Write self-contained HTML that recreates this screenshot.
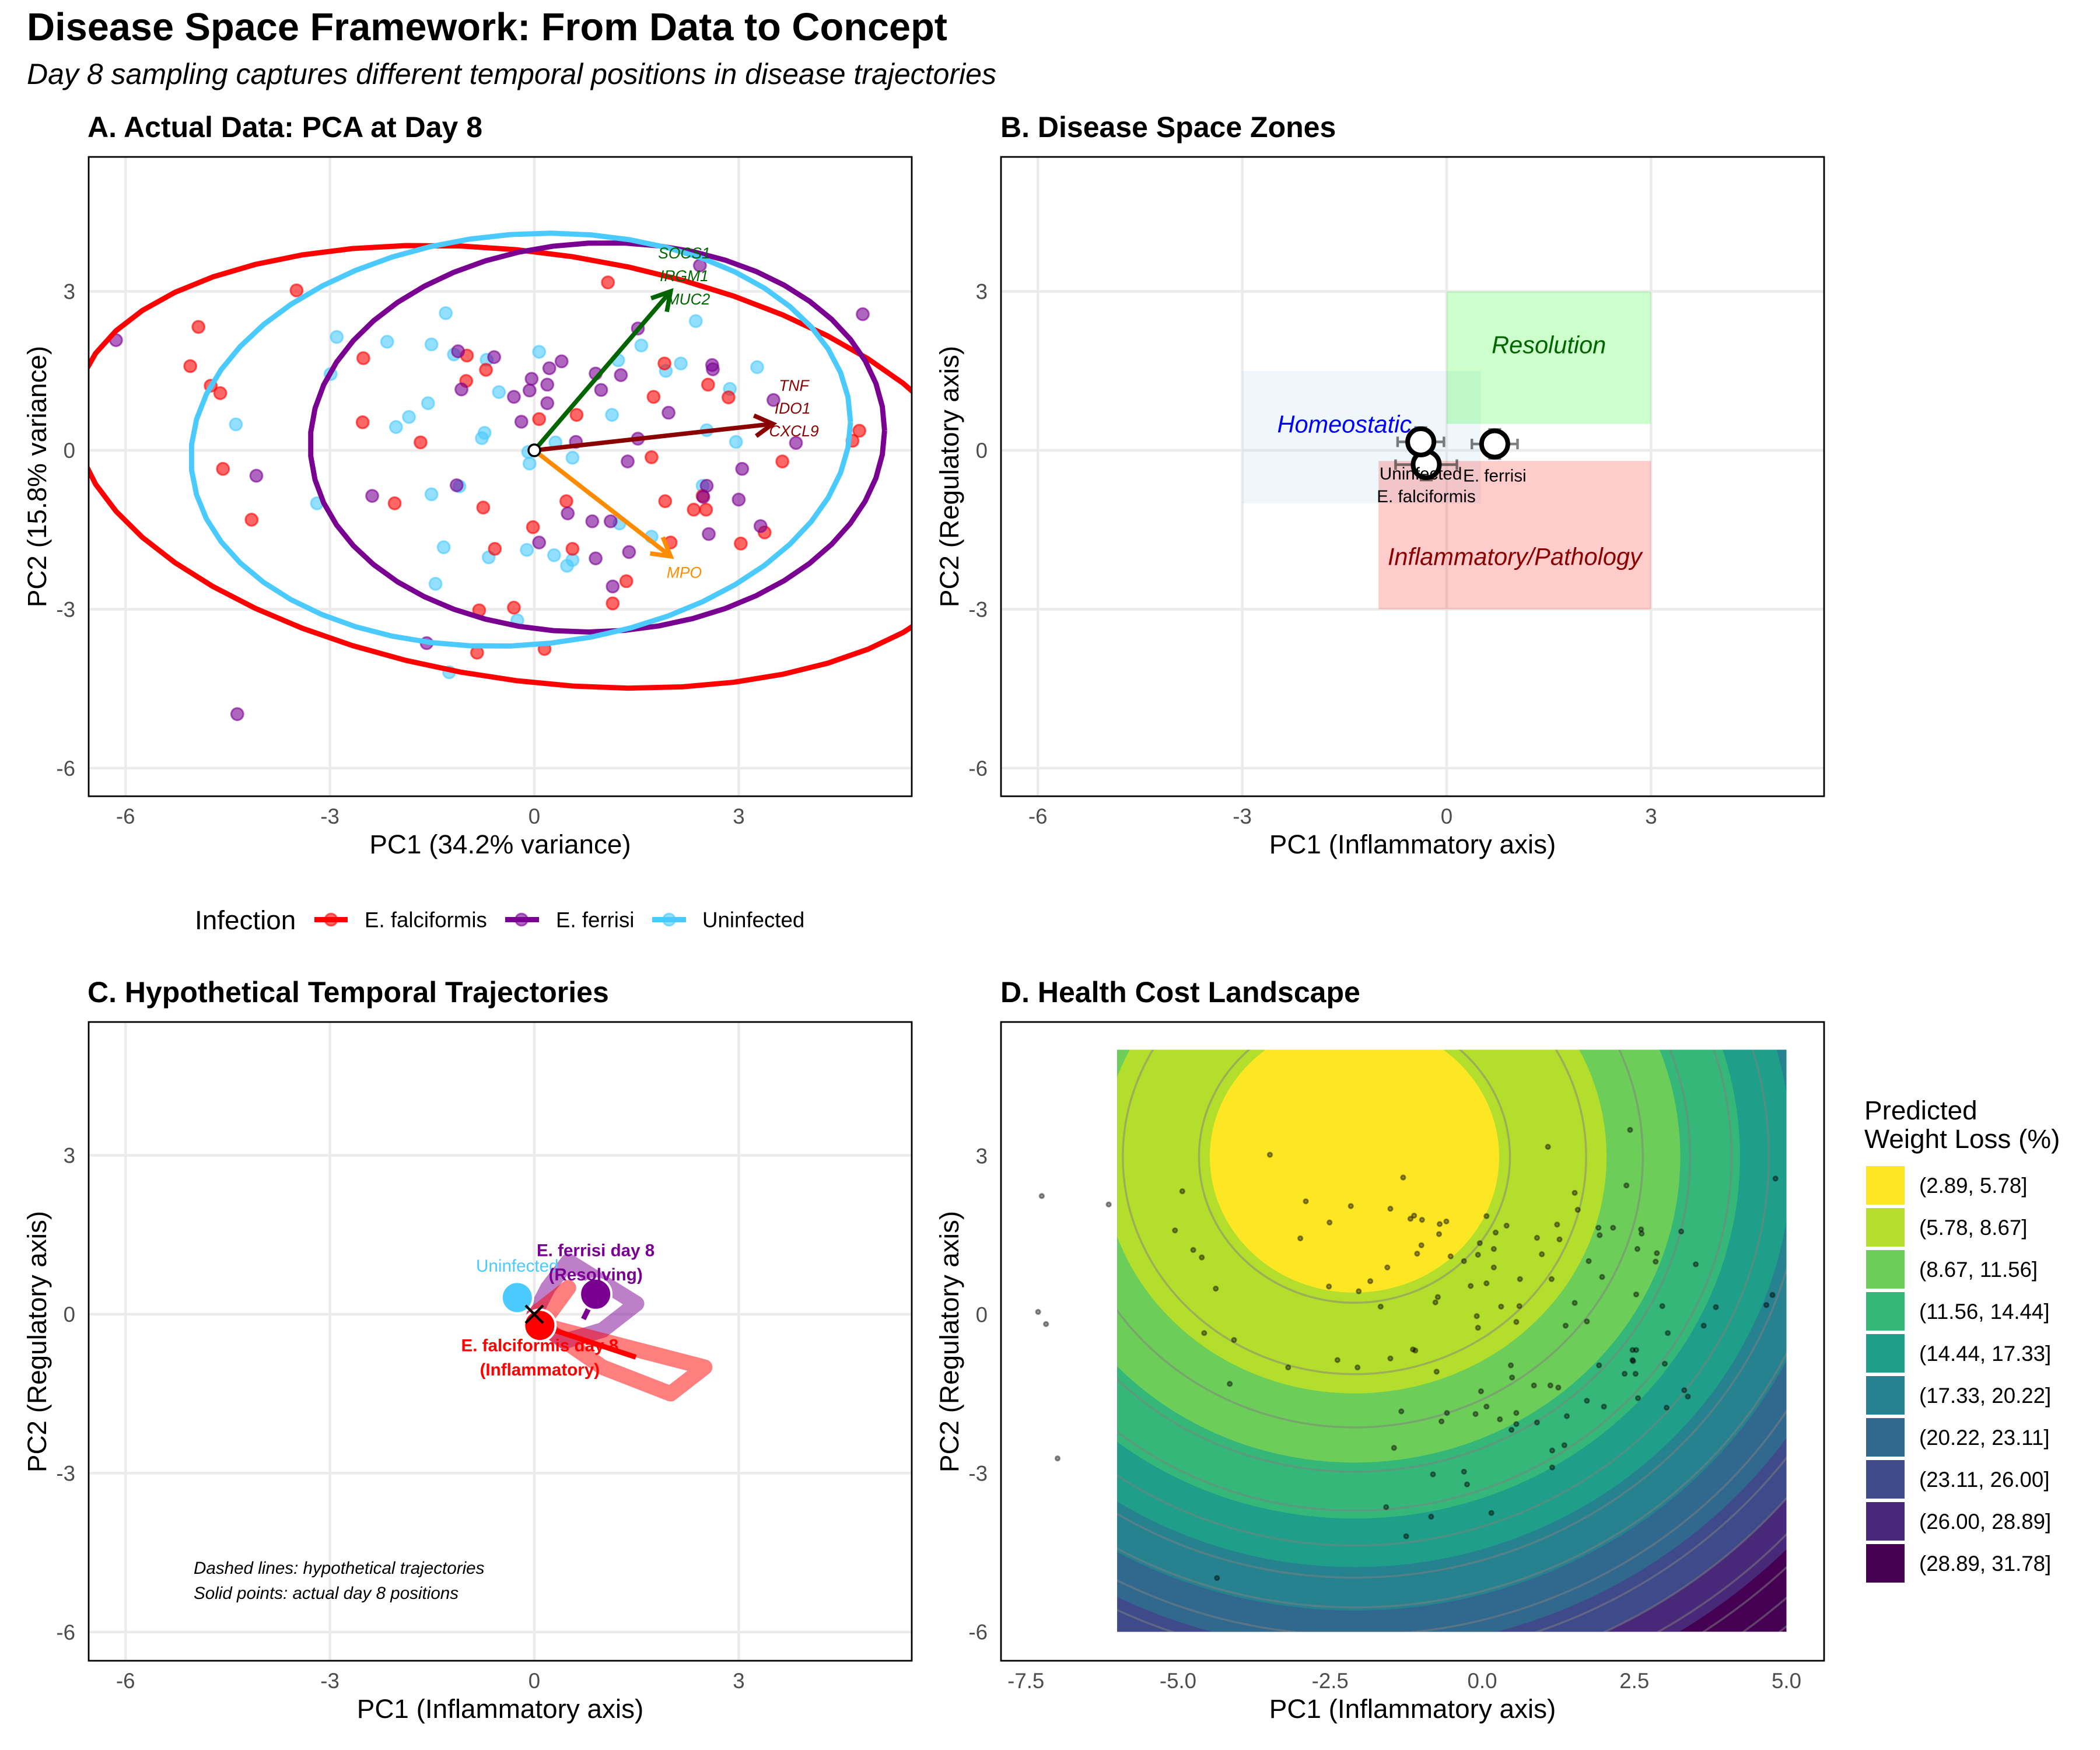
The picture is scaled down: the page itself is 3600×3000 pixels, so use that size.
<!DOCTYPE html>
<html lang="en">
<head>
<meta charset="utf-8">
<title>Disease Space Framework: From Data to Concept</title>
<style>
html,body{margin:0;padding:0;background:#fff;}
svg{display:block;font-family:"Liberation Sans",Arial,sans-serif;}
.tick{font-size:36.67px;fill:#4D4D4D;}
.atitle{font-size:45.83px;fill:#000;}
.ptitle{font-size:50px;font-weight:bold;fill:#000;}
.ltext{font-size:36.67px;fill:#000;}
</style>
</head>
<body>
<svg id="figure" width="3600" height="3000" viewBox="0 0 3600 3000" xmlns="http://www.w3.org/2000/svg">
<defs>
<clipPath id="clip-a"><rect x="152" y="269" width="1411" height="1096"/></clipPath>
<clipPath id="clip-b"><rect x="1716" y="269" width="1411" height="1096"/></clipPath>
<clipPath id="clip-c"><rect x="152" y="1752" width="1411" height="1095"/></clipPath>
<clipPath id="clip-d"><rect x="1716" y="1752" width="1411" height="1095"/></clipPath>
<clipPath id="clip-d-fill"><rect x="1915.2" y="1799.5" width="1147.3" height="997.7"/></clipPath>
</defs>
<rect x="0" y="0" width="3600" height="3000" fill="#fff"/>
<text x="46" y="69" font-size="66.67" font-weight="bold">Disease Space Framework: From Data to Concept</text>
<text x="46" y="144" font-size="50" font-style="italic">Day 8 sampling captures different temporal positions in disease trajectories</text>

<g id="panel-a">
<text class="ptitle" x="150" y="235">A. Actual Data: PCA at Day 8</text>
<g id="a-grid"></g>
<g id="a-marks" clip-path="url(#clip-a)"></g>
<rect x="152" y="269" width="1411" height="1096" fill="none" stroke="#000" stroke-width="2.8"/>
<g id="a-ticks"></g>
<text class="atitle" x="857.5" y="1463" text-anchor="middle">PC1 (34.2% variance)</text>
<text class="atitle" transform="translate(79,817) rotate(-90)" text-anchor="middle">PC2 (15.8% variance)</text>
</g>

<g id="panel-b">
<text class="ptitle" x="1715" y="235">B. Disease Space Zones</text>
<g id="b-grid"></g>
<g id="b-marks" clip-path="url(#clip-b)"></g>
<rect x="1716" y="269" width="1411" height="1096" fill="none" stroke="#000" stroke-width="2.8"/>
<g id="b-ticks"></g>
<text class="atitle" x="2421.5" y="1463" text-anchor="middle">PC1 (Inflammatory axis)</text>
<text class="atitle" transform="translate(1643,817) rotate(-90)" text-anchor="middle">PC2 (Regulatory axis)</text>
</g>

<g id="shared-legend">
<text class="atitle" x="334" y="1593">Infection</text>
<g>
<line x1="539" x2="596" y1="1576.5" y2="1576.5" stroke="#FF0000" stroke-width="8.9"/>
<circle cx="567.5" cy="1576.5" r="10.4" fill="#FF0000" fill-opacity="0.6" stroke="#FF0000" stroke-opacity="0.6" stroke-width="3"/>
<text class="ltext" x="625" y="1589.5">E. falciformis</text>
</g>
<g>
<line x1="866" x2="924" y1="1576.5" y2="1576.5" stroke="#7A0092" stroke-width="8.9"/>
<circle cx="894" cy="1576.5" r="10.4" fill="#7A0092" fill-opacity="0.6" stroke="#7A0092" stroke-opacity="0.6" stroke-width="3"/>
<text class="ltext" x="953" y="1589.5">E. ferrisi</text>
</g>
<g>
<line x1="1118" x2="1176" y1="1576.5" y2="1576.5" stroke="#4ACAFF" stroke-width="8.9"/>
<circle cx="1147" cy="1576.5" r="10.4" fill="#4ACAFF" fill-opacity="0.6" stroke="#4ACAFF" stroke-opacity="0.6" stroke-width="3"/>
<text class="ltext" x="1204" y="1589.5">Uninfected</text>
</g>
</g>

<g id="panel-c">
<text class="ptitle" x="150" y="1718">C. Hypothetical Temporal Trajectories</text>
<g id="c-grid"></g>
<g id="c-marks" clip-path="url(#clip-c)"></g>
<text x="332" y="2698" font-size="29.6" font-style="italic">Dashed lines: hypothetical trajectories</text>
<text x="332" y="2741" font-size="29.6" font-style="italic">Solid points: actual day 8 positions</text>
<rect x="152" y="1752" width="1411" height="1095" fill="none" stroke="#000" stroke-width="2.8"/>
<g id="c-ticks"></g>
<text class="atitle" x="857.5" y="2945" text-anchor="middle">PC1 (Inflammatory axis)</text>
<text class="atitle" transform="translate(79,2300) rotate(-90)" text-anchor="middle">PC2 (Regulatory axis)</text>
</g>

<g id="panel-d">
<text class="ptitle" x="1715" y="1718">D. Health Cost Landscape</text>
<g id="d-fill" clip-path="url(#clip-d-fill)"></g>
<g id="d-marks" clip-path="url(#clip-d)"></g>
<rect x="1716" y="1752" width="1411" height="1095" fill="none" stroke="#000" stroke-width="2.8"/>
<g id="d-ticks"></g>
<text class="atitle" x="2421.5" y="2945" text-anchor="middle">PC1 (Inflammatory axis)</text>
<text class="atitle" transform="translate(1643,2300) rotate(-90)" text-anchor="middle">PC2 (Regulatory axis)</text>
<text class="atitle" x="3196" y="1919">Predicted</text>
<text class="atitle" x="3196" y="1968">Weight Loss (%)</text>
<g id="d-legend"></g>
</g>
</svg>

<script>
// ---- Panel A: PCA scores ----
const falciformisPC1 = [-3.49,-4.93,-5.05,-4.75,-4.61,-4.57,-4.15,-2.51,-2.52,-1.67,-0.99,-0.71,-1.00,-2.05,-0.75,0.07,0.62,1.08,1.91,2.55,1.75,2.85,1.72,4.77,4.67,3.64,0.47,1.92,2.47,2.34,2.52,3.38,3.03,-0.02,-0.58,0.56,2.00,1.35,1.15,-0.81,-0.30,0.15,-0.84];
const falciformisPC2 = [3.02,2.33,1.59,1.22,1.08,-0.35,-1.31,1.74,0.53,0.15,1.79,1.52,1.31,-1.00,-1.08,0.59,0.67,3.17,1.64,1.24,1.01,1.00,-0.13,0.37,0.18,-0.21,-0.96,-0.96,-0.86,-1.12,-1.12,-1.55,-1.76,-1.45,-1.86,-1.86,-1.74,-2.47,-2.89,-3.02,-2.97,-3.75,-3.82];
const ferrisiPC1 = [-6.14,-4.08,-2.38,-1.14,-1.12,-0.59,-1.07,-0.30,-0.07,-0.04,0.22,0.40,0.19,0.19,-0.19,0.90,1.27,0.98,1.52,2.43,4.82,2.61,2.62,1.97,3.51,1.52,0.61,3.84,1.37,3.05,2.53,2.48,3.00,0.49,0.85,1.12,3.32,2.56,0.07,0.90,1.39,1.15,-1.58,-4.36];
const ferrisiPC2 = [2.08,-0.48,-0.86,-0.66,1.87,1.76,1.15,1.01,1.13,1.35,1.55,1.68,1.24,0.89,0.54,1.45,1.42,1.14,2.30,3.49,2.57,1.61,1.53,0.71,0.95,0.22,0.16,0.14,-0.21,-0.35,-0.67,-0.88,-0.93,-1.19,-1.34,-1.34,-1.43,-1.58,-1.74,-2.04,-1.92,-2.57,-3.64,-4.98];
const uninfectedPC1 = [-1.30,-2.90,-2.16,-1.51,-1.18,-0.70,0.07,1.23,1.57,2.37,2.15,1.93,3.27,2.87,-2.99,-0.52,-1.56,-1.84,-2.03,-4.38,1.14,-0.73,-0.77,0.31,2.53,2.96,-0.09,-0.07,0.56,-1.10,-1.51,-3.19,2.47,1.25,1.72,-1.33,-0.67,-0.11,0.29,0.56,0.48,-1.45,-0.25,-1.25];
const uninfectedPC2 = [2.59,2.14,2.05,2.00,1.81,1.71,1.86,1.70,1.98,2.44,1.64,1.50,1.57,1.16,1.44,1.10,0.89,0.63,0.44,0.49,0.67,0.33,0.23,0.15,0.38,0.16,-0.03,-0.25,-0.14,-0.68,-0.83,-1.00,-0.67,-1.38,-1.63,-1.83,-2.02,-1.88,-1.98,-2.07,-2.18,-2.52,-3.21,-4.19];
const outlierPC1 = [-7.24,-7.30,-7.17,-6.98];
const outlierPC2 = [2.24,0.05,-0.18,-2.72];

const ellipseNames = ['falciformis','ferrisi','uninfected'];
const ellipseCenterX = [-0.055,0.925,-0.2];
const ellipseCenterY = [-0.31,0.245,0.2];
const ellipseSpreadX = [6.7,4.215,4.84];
const ellipseSpreadY = [4.18,3.675,3.9];
const ellipseCorr = [-0.2276,0.035,0.085];

const loadingGroups = ['mpo','inflammatory','regulatory'];
const loadingEndX = [2,3.5,2];
const loadingEndY = [-2,0.5,3];
const geneLabels = ['SOCS1','IRGM1','MUC2','TNF','IDO1','CXCL9','MPO'];
const geneLabelX = [2.2,2.2,2.26,3.81,3.79,3.81,2.2];
const geneLabelY = [3.73,3.30,2.86,1.23,0.80,0.37,-2.30];

const pcaTicksX = [-6,-3,0,3];
const pcaTicksY = [3,0,-3,-6];

// ---- Panel B: zones and group means ----
const zoneNames = ['Homeostatic','Resolution','Inflammatory/Pathology'];
const zoneXMin = [-3,0,-1];
const zoneXMax = [0.5,3,3];
const zoneYMin = [-1,0.5,-3];
const zoneYMax = [1.5,3,-0.2];
const zoneLabelX = [-1.5,1.5,1];
const zoneLabelY = [0.5,2,-2];
const groupNames = ['E. falciformis','E. ferrisi','Uninfected'];
const groupMeanX = [-0.30,0.705,-0.38];
const groupMeanY = [-0.27,0.12,0.16];
const groupErrX = [0.45,0.335,0.34];
const groupErrY = [0.29,0.275,0.27];

// ---- Panel C: hypothetical trajectories ----
const falciformisPathX = [0,0.5,0.1,2.5,2,1,0.1];
const falciformisPathY = [0,0.5,-0.2,-1,-1.5,-1,-0.2];
const ferrisiPathX = [0,0.2,0.5,1.5,1,0.44,0.1];
const ferrisiPathY = [0,0.5,1,0.2,-0.3,-0.51,-0.2];
const day8X = [-0.25,0.9,0.08];
const day8Y = [0.315,0.378,-0.21];
const day8LeadFalcX = [0.08,1.49];
const day8LeadFalcY = [-0.21,-0.81];
const day8LeadFerX = [0.9,0.72];
const day8LeadFerY = [0.378,-0.09];

// ---- Panel D: cost landscape ----
const surfaceMinimum = [4.36];
const surfaceCenter = [-2.10,2.98];
const surfaceCurvature = [0.2511,0.2157];
const bandBreaks = [5.78,8.67,11.56,14.44,17.33,20.22,23.11,26.00,28.89];
const bandLabels = ['(2.89, 5.78]','(5.78, 8.67]','(8.67, 11.56]','(11.56, 14.44]','(14.44, 17.33]','(17.33, 20.22]','(20.22, 23.11]','(23.11, 26.00]','(26.00, 28.89]','(28.89, 31.78]'];
const contourLevels = [6,8,10,12,14,16,18,20,22,24,26,28,30,32,34];
const costTicksX = [-7.5,-5,-2.5,0,2.5,5];
const costTickLabelsX = ['-7.5','-5.0','-2.5','0.0','2.5','5.0'];
const costTicksY = [3,0,-3,-6];

// ---- Drawing helpers ----
const SVGNS = 'http://www.w3.org/2000/svg';
function mk(tag, parent, attrs, text){
  const el = document.createElementNS(SVGNS, tag);
  for (const k in attrs) el.setAttribute(k, attrs[k]);
  if (text !== undefined) el.textContent = text;
  parent.appendChild(el);
  return el;
}
function linear(origin, perUnit){ return v => origin + perUnit * v; }
const colFalc = '#FF0000', colFer = '#7A0092', colUn = '#4ACAFF';

const xA = linear(916,116.8), yA = linear(772,-90.8);
const xB = linear(2480,116.8), yB = linear(772,-90.8);
const xC = linear(916,116.8), yC = linear(2253,-90.8);
const xD = linear(2541,104.3), yD = linear(2253.5,-90.7);

function gridAndTicks(prefix, gridG, tickG, xs, ys, xv, yv, box, xLabels, drawGrid){
  xs.forEach((v,i) => {
    if (drawGrid) {
      const g = mk('line', gridG, {x1:xv(v),x2:xv(v),y1:box.top,y2:box.bottom,stroke:'#EBEBEB','stroke-width':4.44});
      
      
    }
    const t = mk('text', tickG, {class:'tick',x:xv(v),y:box.bottom+47,'text-anchor':'middle'}, xLabels ? xLabels[i] : String(v));
    
    
  });
  ys.forEach(v => {
    if (drawGrid) {
      const g = mk('line', gridG, {x1:box.left,x2:box.right,y1:yv(v),y2:yv(v),stroke:'#EBEBEB','stroke-width':4.44});
      
      
    }
    const t = mk('text', tickG, {class:'tick',x:box.left-23,y:yv(v)+13,'text-anchor':'end'}, String(v));
    
    
  });
}
const $ = id => document.getElementById(id);
const boxA = {left:152,right:1563,top:269,bottom:1365};
const boxB = {left:1716,right:3127,top:269,bottom:1365};
const boxC = {left:152,right:1563,top:1752,bottom:2847};
const boxD = {left:1716,right:3127,top:1752,bottom:2847};
gridAndTicks('panel-a',$('a-grid'),$('a-ticks'),pcaTicksX,pcaTicksY,xA,yA,boxA,null,true);
gridAndTicks('panel-b',$('b-grid'),$('b-ticks'),pcaTicksX,pcaTicksY,xB,yB,boxB,null,true);
gridAndTicks('panel-c',$('c-grid'),$('c-ticks'),pcaTicksX,pcaTicksY,xC,yC,boxC,null,true);

// Panel A marks
(function(){
  const g = $('a-marks');
  function pts(xs, ys, col, name){
    xs.forEach((x,i) => {
      const c = mk('circle', g, {cx:xA(x),cy:yA(ys[i]),r:10.4,fill:col,'fill-opacity':0.6,stroke:col,'stroke-opacity':0.6,'stroke-width':3});
      
      
    });
  }
  pts(uninfectedPC1, uninfectedPC2, colUn, 'uninfected');
  pts(falciformisPC1, falciformisPC2, colFalc, 'falciformis');
  pts(outlierPC1, outlierPC2, colFalc, 'outlier');
  pts(ferrisiPC1, ferrisiPC2, colFer, 'ferrisi');
  const ellipseColors = {falciformis:colFalc, ferrisi:colFer, uninfected:colUn};
  ellipseNames.forEach((nm,i) => {
    const p = [];
    const s = Math.sqrt(1 - ellipseCorr[i]*ellipseCorr[i]);
    for (let k=0;k<=51;k++){
      const t = k*2*Math.PI/51;
      const px = ellipseCenterX[i] + ellipseSpreadX[i]*Math.cos(t);
      const py = ellipseCenterY[i] + ellipseSpreadY[i]*(ellipseCorr[i]*Math.cos(t) + s*Math.sin(t));
      p.push(xA(px).toFixed(1)+','+yA(py).toFixed(1));
    }
    const e = mk('polyline', g, {points:p.join(' '),fill:'none',stroke:ellipseColors[nm],'stroke-width':8.9,'stroke-linejoin':'round'});
    
    
  });
  const loadingColors = {mpo:'#FF8C00',inflammatory:'#8B0000',regulatory:'#006400'};
  loadingGroups.forEach((nm,i) => {
    const x0=xA(0), y0=yA(0), x1=xA(loadingEndX[i]), y1=yA(loadingEndY[i]);
    const a = Math.atan2(y1-y0,x1-x0), L=35.4, w=Math.PI/6;
    const ax1=x1-L*Math.cos(a-w), ay1=y1-L*Math.sin(a-w), ax2=x1-L*Math.cos(a+w), ay2=y1-L*Math.sin(a+w);
    const ln = mk('line', g, {x1:x0,y1:y0,x2:x1,y2:y1,stroke:loadingColors[nm],'stroke-width':7.6});
    
    
    const hd = mk('polyline', g, {points:ax1+','+ay1+' '+x1+','+y1+' '+ax2+','+ay2,fill:'none',stroke:loadingColors[nm],'stroke-width':7.6,'stroke-linejoin':'miter'});
    
    
  });
  const o = mk('circle', g, {cx:xA(0),cy:yA(0),r:10,fill:'#fff',stroke:'#000','stroke-width':3.5});
  
  
  geneLabels.forEach((lab,i) => {
    const col = i<3 ? '#006400' : (i<6 ? '#8B0000' : '#FF8C00');
    const t = mk('text', g, {x:xA(geneLabelX[i]),y:yA(geneLabelY[i])+9.5,'text-anchor':'middle','font-size':26.4,'font-style':'italic',fill:col}, lab);
    
    
  });
})();

// Panel B marks
(function(){
  const g = $('b-marks');
  const zoneFill = ['#ADD8E6','#00FF00','#FF0000'];
  const zoneText = ['#0000FF','#006400','#8B0000'];
  zoneNames.forEach((nm,i) => {
    const r = mk('rect', g, {x:xB(zoneXMin[i]),y:yB(zoneYMax[i]),width:xB(zoneXMax[i])-xB(zoneXMin[i]),height:yB(zoneYMin[i])-yB(zoneYMax[i]),fill:zoneFill[i],'fill-opacity':0.2});
    
    
  });
  zoneNames.forEach((nm,i) => {
    const t = mk('text', g, {x:xB(zoneLabelX[i]),y:yB(zoneLabelY[i])+15,'text-anchor':'middle','font-size':41.5,'font-style':'italic',fill:zoneText[i]}, nm);
    
    
  });
  groupNames.forEach((nm,i) => {
    const cx=xB(groupMeanX[i]), cy=yB(groupMeanY[i]);
    const x1=xB(groupMeanX[i]-groupErrX[i]), x2=xB(groupMeanX[i]+groupErrX[i]);
    const y1=yB(groupMeanY[i]+groupErrY[i]), y2=yB(groupMeanY[i]-groupErrY[i]);
    const d = 'M'+x1+' '+cy+'H'+x2+'M'+x1+' '+(cy-9)+'V'+(cy+9)+'M'+x2+' '+(cy-9)+'V'+(cy+9)
            + 'M'+cx+' '+y1+'V'+y2+'M'+(cx-11)+' '+y1+'H'+(cx+11)+'M'+(cx-11)+' '+y2+'H'+(cx+11);
    const e = mk('path', g, {d:d,fill:'none',stroke:'#000','stroke-opacity':0.5,'stroke-width':4.44});
    
    
  });
  groupNames.forEach((nm,i) => {
    const c = mk('circle', g, {cx:xB(groupMeanX[i]),cy:yB(groupMeanY[i]),r:22.5,fill:'#fff',stroke:'#000','stroke-width':8});
    
    
  });
  groupNames.forEach((nm,i) => {
    const t = mk('text', g, {x:xB(groupMeanX[i]),y:yB(groupMeanY[i])+64.5,'text-anchor':'middle','font-size':29.6,fill:'#000'}, nm);
    
    
  });
})();

// Panel C marks
(function(){
  const g = $('c-marks');
  function band(xs, ys, col, name){
    const pts = xs.map((x,i) => xC(x)+','+yC(ys[i])).join(' ');
    const p = mk('polyline', g, {points:pts,fill:'none',stroke:col,'stroke-opacity':0.5,'stroke-width':26.7,'stroke-linejoin':'round','stroke-linecap':'round'});
    
    
  }
  band(ferrisiPathX, ferrisiPathY, colFer, 'ferrisi');
  band(falciformisPathX, falciformisPathY, colFalc, 'falciformis');
  const a = mk('line', g, {x1:xC(day8LeadFalcX[0]),y1:yC(day8LeadFalcY[0]),x2:xC(day8LeadFalcX[1]),y2:yC(day8LeadFalcY[1]),stroke:colFalc,'stroke-width':8.9});
  
  
  const b = mk('line', g, {x1:xC(day8LeadFerX[0]),y1:yC(day8LeadFerY[0]),x2:xC(day8LeadFerX[1]),y2:yC(day8LeadFerY[1]),stroke:colFer,'stroke-width':8.9});
  
  
  const dayColors = [colUn,colFer,colFalc];
  day8X.forEach((x,i) => {
    const c = mk('circle', g, {cx:xC(x),cy:yC(day8Y[i]),r:27,fill:dayColors[i],stroke:'#fff','stroke-width':4});
    
    
  });
  const s=15;
  const cross = mk('path', g, {d:'M'+(xC(0)-s)+' '+(yC(0)-s)+'L'+(xC(0)+s)+' '+(yC(0)+s)+'M'+(xC(0)-s)+' '+(yC(0)+s)+'L'+(xC(0)+s)+' '+(yC(0)-s),stroke:'#000','stroke-width':4.4,fill:'none'});
  
  
  const lab = [
    ['Uninfected',xC(day8X[0]),2180,colUn,'normal'],
    ['E. ferrisi day 8',xC(day8X[1]),2153.5,colFer,'bold'],
    ['(Resolving)',xC(day8X[1]),2195,colFer,'bold'],
    ['E. falciformis day 8',xC(day8X[2]),2316.5,colFalc,'bold'],
    ['(Inflammatory)',xC(day8X[2]),2358,colFalc,'bold']
  ];
  lab.forEach(l => {
    const t = mk('text', g, {x:l[1],y:l[2],'text-anchor':'middle','font-size':29.6,'font-weight':l[4],fill:l[3]}, l[0]);
    
    
  });
})();

// Panel D
(function(){
  const fillG = $('d-fill');
  const viridis = ['#FDE725','#B4DE2C','#6DCD59','#35B779','#1F9E89','#26828E','#31688E','#3E4A89','#482878','#440154'];
  const back = mk('rect', fillG, {x:xD(-6),y:yD(5),width:xD(5)-xD(-6),height:yD(-6)-yD(5),fill:viridis[9]});
  
  
  const cx = xD(surfaceCenter[0]), cy = yD(surfaceCenter[1]);
  function radii(level){
    const d = level - surfaceMinimum[0];
    return [xD(surfaceCenter[0]+Math.sqrt(d/surfaceCurvature[0]))-cx, cy-yD(surfaceCenter[1]+Math.sqrt(d/surfaceCurvature[1]))];
  }
  for (let i=bandBreaks.length-1;i>=0;i--){
    const r = radii(bandBreaks[i]);
    const e = mk('ellipse', fillG, {cx:cx,cy:cy,rx:r[0],ry:r[1],fill:viridis[i]});
    
    
  }
  contourLevels.forEach(l => {
    const r = radii(l);
    const e = mk('ellipse', fillG, {cx:cx,cy:cy,rx:r[0],ry:r[1],fill:'none',stroke:'#7F7F7F','stroke-opacity':0.5,'stroke-width':3.5});
    
    
  });
  const g = $('d-marks');
  const ax = [].concat(falciformisPC1,ferrisiPC1,uninfectedPC1,outlierPC1);
  const ay = [].concat(falciformisPC2,ferrisiPC2,uninfectedPC2,outlierPC2);
  ax.forEach((x,i) => {
    const c = mk('circle', g, {cx:xD(x),cy:yD(ay[i]),r:3.7,fill:'#000','fill-opacity':0.4,stroke:'#000','stroke-opacity':0.4,'stroke-width':2.95});
    
    
  });
  gridAndTicks('panel-d',null,$('d-ticks'),costTicksX,costTicksY,xD,yD,boxD,costTickLabelsX,false);
  const leg = $('d-legend');
  bandLabels.forEach((lab,i) => {
    const y = 1999 + 72*i;
    const r = mk('rect', leg, {x:3199,y:y,width:66,height:66,fill:viridis[i]});
    
    
    const t = mk('text', leg, {class:'ltext',x:3290,y:y+33+13}, lab);
    
    
  });
})();
</script>
</body>
</html>
